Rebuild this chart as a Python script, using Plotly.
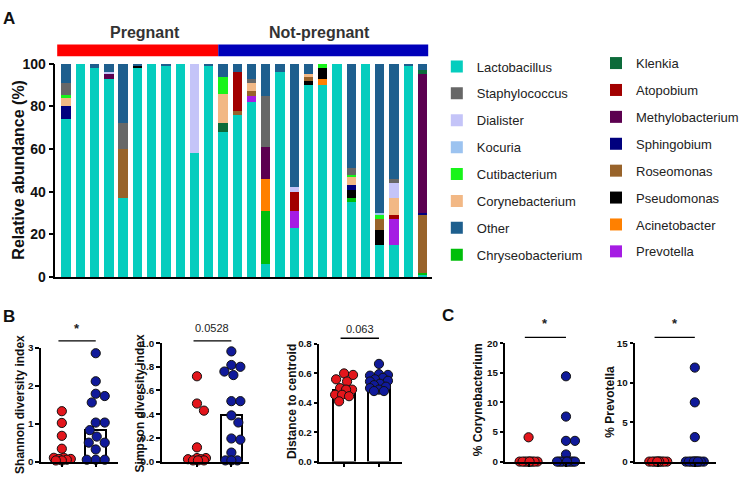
import math
import plotly.graph_objects as go

W, H = 744, 478
FONT = "Liberation Sans, Arial, sans-serif"
RED = "#E3161C"
BLUE = "#101A9A"

def fx(px):
    return px / W

def fy(py):
    return 1 - py / H

# ---------------- Panel A data ----------------
samples = ["P1", "P2", "P3", "P4", "P5", "P6", "P7", "P8", "P9", "P10", "P11",
           "NP1", "NP2", "NP3", "NP4", "NP5", "NP6", "NP7", "NP8", "NP9", "NP10",
           "NP11", "NP12", "NP13", "NP14", "NP15"]
n_preg = 11

#                 P1  P2  P3  P4  P5  P6  P7  P8  P9 P10 P11 | NP1 NP2 NP3 NP4 NP5 NP6 NP7 NP8 NP9 NP10 NP11 NP12 NP13 NP14 NP15
lactobacillus   = [74, 100, 98, 93, 37, 98, 100, 99, 100, 58, 99, 68, 76, 82, 6, 96, 23, 90, 90, 100, 35, 100, 15, 15, 99, 1]
chryseobacterium= [0, 0, 0, 0, 0, 0, 0, 0, 0, 0, 0, 0, 0, 0, 25, 0, 0, 0, 0, 0, 2, 0, 0, 0, 0, 1]
prevotella      = [0, 0, 0, 0, 0, 0, 0, 0, 0, 0, 0, 0, 0, 3, 0, 0, 8, 0, 0, 0, 0, 0, 0, 12, 0, 0]
acinetobacter   = [0, 0, 0, 0, 0, 0, 0, 0, 0, 0, 0, 0, 0, 0, 15, 0, 0, 0, 3, 0, 0, 0, 0, 0, 0, 0]
pseudomonas     = [0, 0, 0, 0, 0, 1, 0, 0, 0, 0, 0, 0, 0, 0, 0, 0, 0, 2, 5, 0, 4, 0, 7, 0, 0, 0]
roseomonas      = [0, 0, 0, 0, 23, 0, 0, 0, 0, 0, 0, 0, 2, 2, 0, 0, 0, 2, 0, 0, 0, 0, 5, 0, 0, 27]
sphingobium     = [6, 0, 0, 0, 0, 0, 0, 0, 0, 0, 0, 0, 0, 0, 0, 0, 0, 0, 0, 0, 2, 0, 0, 0, 0, 1]
methylobacterium= [0, 0, 0, 2, 0, 0, 0, 0, 0, 0, 0, 0, 0, 0, 15, 0, 0, 0, 0, 0, 0, 0, 0, 0, 0, 65]
atopobium       = [0, 0, 0, 0, 0, 0, 0, 0, 0, 0, 0, 0, 18, 0, 0, 0, 9, 0, 0, 0, 0, 0, 0, 2, 0, 0]
klenkia         = [0, 0, 0, 0, 0, 0, 0, 0, 0, 0, 0, 4, 0, 0, 0, 0, 0, 0, 0, 0, 0, 0, 0, 0, 0, 2]
corynebacterium = [4, 0, 0, 0, 0, 0, 0, 0, 0, 0, 0, 14, 0, 4, 0, 0, 0, 1, 0, 0, 4, 0, 0, 8, 0, 0]
cutibacterium   = [1.5, 0, 0, 0, 0, 0, 0, 0, 0, 0, 0, 8, 0, 0, 0, 0, 0, 0, 2, 0, 1, 0, 2, 0, 0, 0]
kocuria         = [0, 0, 0, 0, 0, 0, 0, 0, 0, 0, 0, 0, 0, 0, 0, 0, 0, 0, 0, 0, 0, 0, 1, 0, 0, 0]
dialister       = [0, 0, 0, 1, 0, 0, 0, 0, 0, 42, 0, 0, 0, 0, 0, 0, 2, 0, 0, 0, 0, 0, 0, 7, 0, 0]
staphylococcus  = [5.5, 0, 0, 0, 12, 0, 0, 0, 0, 0, 0, 0, 0, 2, 24, 0, 0, 0, 0, 0, 3, 0, 0, 2, 0, 0]
other           = [9, 0, 2, 4, 28, 1, 0, 1, 0, 0, 1, 6, 4, 7, 15, 4, 58, 5, 0, 0, 49, 0, 70, 54, 1, 3]

# stacking order bottom -> top: (name, values, colour, legend, rank)
genera = [
    ("Lactobacillus", lactobacillus, "#05CDBE", "legend", 1),
    ("Chryseobacterium", chryseobacterium, "#00BE0A", "legend", 8),
    ("Prevotella", prevotella, "#A51CE3", "legend2", 8),
    ("Acinetobacter", acinetobacter, "#FF8000", "legend2", 7),
    ("Pseudomonas", pseudomonas, "#000000", "legend2", 6),
    ("Roseomonas", roseomonas, "#98632A", "legend2", 5),
    ("Sphingobium", sphingobium, "#00007E", "legend2", 4),
    ("Methylobacterium", methylobacterium, "#5C0050", "legend2", 3),
    ("Atopobium", atopobium, "#A20000", "legend2", 2),
    ("Klenkia", klenkia, "#0C6B3A", "legend2", 1),
    ("Corynebacterium", corynebacterium, "#F2B885", "legend", 6),
    ("Cutibacterium", cutibacterium, "#18F41A", "legend", 5),
    ("Kocuria", kocuria, "#9CC3F0", "legend", 4),
    ("Dialister", dialister, "#C4C4F8", "legend", 3),
    ("Staphylococcus", staphylococcus, "#676767", "legend", 2),
    ("Other", other, "#1E5F8E", "legend", 7),
]

# ---------------- Panel B / C data ----------------
shannon_preg = [1.33, 1.02, 0.68, 0.34, 0.10, 0.10, 0.07, 0.07, 0.05, 0.03, 0.03]
shannon_np = [2.86, 2.12, 1.79, 1.73, 1.56, 1.03, 1.03, 0.83, 0.66, 0.50, 0.50, 0.32, 0.05, 0.05, 0.05]
simpson_preg = [0.72, 0.49, 0.43, 0.12, 0.03, 0.03, 0.02, 0.02, 0.01, 0.01, 0.01]
simpson_np = [0.93, 0.815, 0.80, 0.76, 0.73, 0.51, 0.51, 0.39, 0.33, 0.195, 0.185, 0.076, 0.01, 0.01, 0.01]
distance_preg = [0.60, 0.59, 0.56, 0.545, 0.50, 0.49, 0.49, 0.455, 0.455, 0.445, 0.41]
distance_np = [0.665, 0.595, 0.59, 0.585, 0.57, 0.56, 0.55, 0.545, 0.53, 0.52, 0.51, 0.50, 0.49, 0.48, 0.48]
coryne_preg = [4.1, 0, 0, 0, 0, 0, 0, 0, 0, 0, 0]
coryne_np = [14.4, 7.6, 3.5, 3.5, 1.2, 0, 0, 0, 0, 0, 0, 0, 0, 0, 0]
prevo_preg = [0, 0, 0, 0, 0, 0, 0, 0, 0, 0, 0]
prevo_np = [11.9, 7.5, 3.1, 0, 0, 0, 0, 0, 0, 0, 0, 0, 0, 0, 0]

fig = go.Figure()

for name, vals, col, leg, rank in genera:
    fig.add_trace(go.Bar(
        x=samples, y=vals, name=name, marker=dict(color=col, line=dict(width=0)),
        width=0.66, legend=leg, legendgroup=name, legendrank=rank,
        xaxis="x", yaxis="y", hoverinfo="name+y"))


def median(v):
    s = sorted(v)
    n = len(s)
    return s[n // 2] if n % 2 else 0.5 * (s[n // 2 - 1] + s[n // 2])


def swarm(vals, ppu_y, ppu_x, diam=9.6, maxoff=9.0):
    order = sorted(range(len(vals)), key=lambda i: -vals[i])
    cands = [0.0]
    k = 1
    while k <= maxoff:
        cands += [float(k), float(-k)]
        k += 1
    placed = []
    offs = [0.0] * len(vals)
    for i in order:
        y = vals[i] * ppu_y
        best, bestd = 0.0, -1.0
        for c in cands:
            d = min([math.hypot(c - px, y - py) for px, py in placed] or [1e9])
            if d >= diam:
                best = c
                break
            if d > bestd:
                bestd, best = d, c
        placed.append((best, y))
        offs[i] = best / ppu_x
    return offs


def ann(text, x, y, size, weight="bold", angle=0, xref="paper", color="#111"):
    return dict(text=text, xref=xref, yref="paper", x=x, y=y, showarrow=False,
                xanchor="center", yanchor="middle", textangle=angle,
                font=dict(size=size, family=FONT, color=color, weight=weight))


# small panels
panels = [
    (2, 41, 118, 351.7, 469.3, 3, 1, 62, 96, shannon_preg, shannon_np, True,
     "Shannon diversity index", (20.7, 410), "*", 344.3, 331.5),
    (3, 162, 250, 346.7, 469.3, 1.0, 0.2, 197.5, 232, simpson_preg, simpson_np, True,
     "Simpson diversity index", (140.5, 409), "0.0528", 344.3, 331.5),
    (4, 320, 403, 347.7, 469.3, 0.8, 0.2, 345, 380, distance_preg, distance_np, True,
     "Distance to centroid", (293, 407.5), "0.063", 341.7, 332),
    (5, 506.7, 586.7, 346.7, 469.3, 20, 5, 530, 567.5, coryne_preg, coryne_np, False,
     "% Corynebacterium", (480, 405), "*", 340.7, 326),
    (6, 636.7, 718, 346.7, 469.3, 15, 5, 660, 696.7, prevo_preg, prevo_np, False,
     "% Prevotella", (612, 407), "*", 340.7, 326),
]

layout_axes = {}
shapes = []
annotations = []

for (ax, l, r, t, b, ymax, dtick, rx, bx, pv, nv, bars, title, tpos, sig, ly, ty) in panels:
    sp = bx - rx
    xr = [(l - rx) / sp, (r - rx) / sp]
    ppu_x = sp
    ppu_y = (b - t) / ymax
    xa, ya = f"x{ax}", f"y{ax}"
    layout_axes[f"xaxis{ax}"] = dict(
        domain=[fx(l), fx(r)], range=xr, anchor=ya, showline=True, linecolor="black",
        linewidth=1.8, ticks="outside", ticklen=4, tickwidth=1.5, tickcolor="black",
        tickvals=[0, 1], ticktext=["", ""], showgrid=False, zeroline=False, fixedrange=True)
    layout_axes[f"yaxis{ax}"] = dict(
        domain=[fy(b), fy(t)], range=[0, ymax], anchor=xa, showline=True, linecolor="black",
        linewidth=1.8, ticks="outside", ticklen=3.5, tickwidth=1.5, tickcolor="black",
        dtick=dtick, tick0=0, tickformat=(".1f" if dtick < 1 else "d"),
        tickfont=dict(size=9.8, family=FONT, color="#111", weight="bold"),
        showgrid=False, zeroline=False, fixedrange=True)
    if bars:
        fig.add_trace(go.Bar(
            x=[0, 1], y=[median(pv), median(nv)], width=0.62,
            marker=dict(color="white", line=dict(color="black", width=2)),
            showlegend=False, xaxis=xa, yaxis=ya, hoverinfo="y"))
    for vals, off0, col in ((pv, 0, RED), (nv, 1, BLUE)):
        offs = swarm(vals, ppu_y, ppu_x)
        fig.add_trace(go.Scatter(
            x=[off0 + o for o in offs], y=vals, mode="markers",
            marker=dict(size=9.2, color=col, line=dict(color="#111", width=1)),
            cliponaxis=False, showlegend=False, xaxis=xa, yaxis=ya, hoverinfo="y"))
    shapes.append(dict(type="line", xref=xa, yref="paper", x0=-0.1, x1=1.0,
                       y0=fy(ly), y1=fy(ly), line=dict(color="black", width=1.3)))
    if sig == "*":
        annotations.append(ann(sig, 0.45, fy(ty), 13, "bold", xref=xa, color="#222"))
    else:
        annotations.append(ann(sig, 0.45, fy(ty), 11, "normal", xref=xa, color="#222"))
    annotations.append(ann(title, fx(tpos[0]), fy(tpos[1]), 12, "bold", angle=-90))

# group header bars for panel A
shapes.append(dict(type="rect", xref="x", yref="paper", x0=-0.63, x1=n_preg - 0.33,
                   y0=fy(50), y1=fy(37.7), fillcolor="#FF0000", line=dict(width=0), layer="above"))
shapes.append(dict(type="rect", xref="x", yref="paper", x0=n_preg - 0.33, x1=len(samples) - 0.6,
                   y0=fy(50), y1=fy(37.7), fillcolor="#0000BA", line=dict(width=0), layer="above"))

annotations += [
    ann("Pregnant", fx(145), fy(25), 16, color="#333"),
    ann("Not-pregnant", fx(320), fy(25), 16, color="#333"),
    ann("Relative abundance (%)", fx(18.3), fy(167), 16, angle=-90),
    ann("A", fx(9.5), fy(11), 17),
    ann("B", fx(9.5), fy(319), 17),
    ann("C", fx(449), fy(318.5), 17),
]

fig.update_layout(
    width=W, height=H, margin=dict(l=0, r=0, t=0, b=0),
    paper_bgcolor="white", plot_bgcolor="white", barmode="stack",
    font=dict(family=FONT, color="#111"),
    xaxis=dict(domain=[fx(55.5), fx(433.5)], range=[-0.76, 25.69], anchor="y",
               showline=True, linecolor="black", linewidth=1.5, showticklabels=False,
               ticks="", showgrid=False, zeroline=False, categoryorder="array",
               categoryarray=samples, fixedrange=True),
    yaxis=dict(domain=[fy(278.3), fy(57.7)], range=[0, 100], anchor="x",
               showline=True, linecolor="black", linewidth=1.5, ticks="outside",
               ticklen=5, tickwidth=1.5, tickcolor="black", tickvals=[0, 20, 40, 60, 80, 100],
               tickfont=dict(size=14, family=FONT, color="#111", weight="bold"),
               showgrid=False, zeroline=False, fixedrange=True),
    legend=dict(x=fx(438), y=fy(45), xanchor="left", yanchor="top", traceorder="grouped",
                tracegroupgap=7, font=dict(size=13, family=FONT, color="#222"),
                bgcolor="rgba(0,0,0,0)", itemwidth=30),
    legend2=dict(x=fx(598), y=fy(41.5), xanchor="left", yanchor="top", traceorder="grouped",
                 tracegroupgap=7, font=dict(size=13, family=FONT, color="#222"),
                 bgcolor="rgba(0,0,0,0)", itemwidth=30),
    shapes=shapes, annotations=annotations,
    **layout_axes,
)

fig.write_html("out.html")
